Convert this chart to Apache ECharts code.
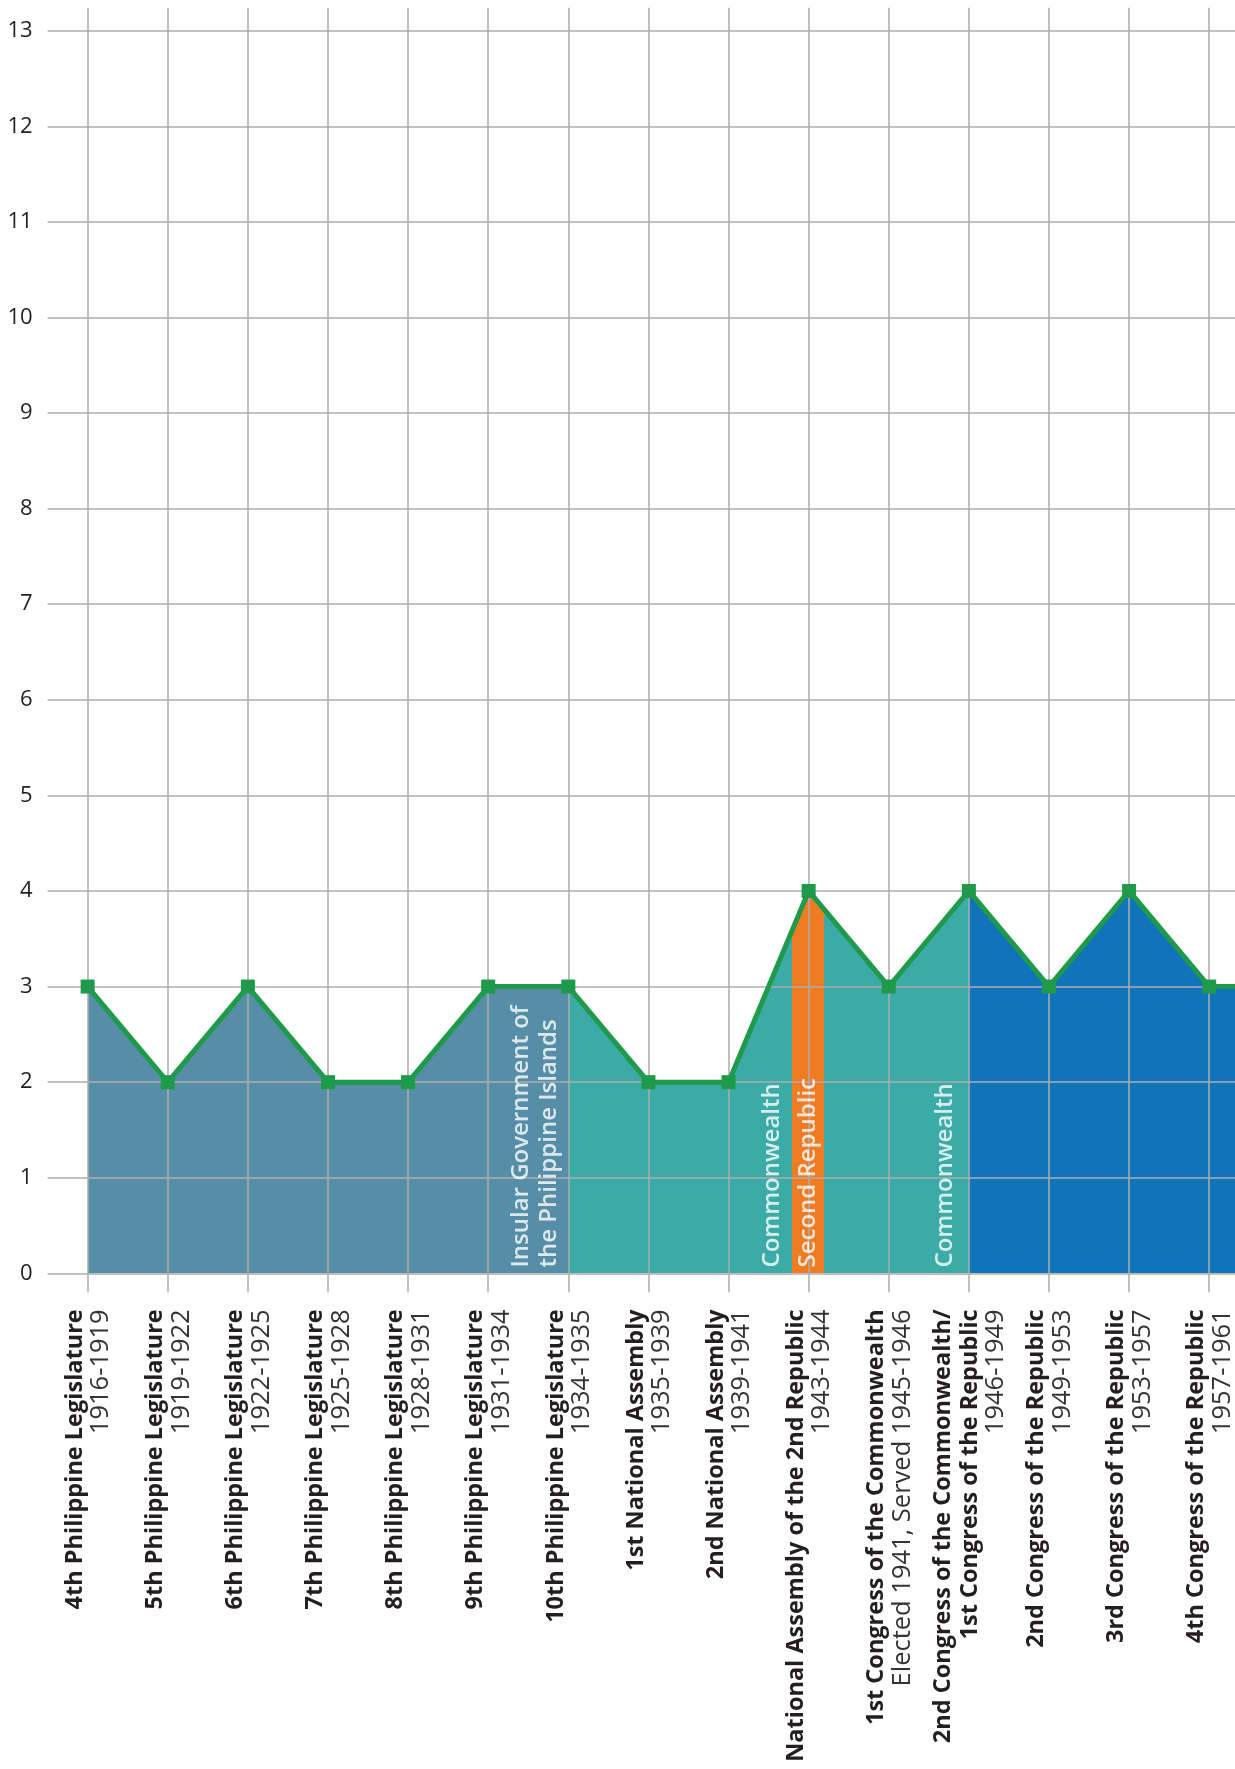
<!DOCTYPE html>
<html>
<head>
<meta charset="utf-8">
<script src="https://cdn.jsdelivr.net/npm/echarts@6/dist/echarts.min.js"></script>
<style>
  html, body { margin: 0; padding: 0; background: #fff; }
  #chart { width: 1235px; height: 1769px; }
</style>
</head>
<body>
<div id="chart"></div>
<script>
// legislatures along the x axis (last one is off the page, line keeps going)
var legislatures = [
  '4th Philippine Legislature',
  '5th Philippine Legislature',
  '6th Philippine Legislature',
  '7th Philippine Legislature',
  '8th Philippine Legislature',
  '9th Philippine Legislature',
  '10th Philippine Legislature',
  '1st National Assembly',
  '2nd National Assembly',
  'National Assembly of the 2nd Republic',
  '1st Congress of the Commonwealth',
  '2nd Congress of the Commonwealth/\n1st Congress of the Republic',
  '2nd Congress of the Republic',
  '3rd Congress of the Republic',
  '4th Congress of the Republic',
  ''
];
var periods = [
  '1916-1919', '1919-1922', '1922-1925', '1925-1928', '1928-1931',
  '1931-1934', '1934-1935', '1935-1939', '1939-1941', '1943-1944',
  'Elected 1941, Served 1945-1946', '1946-1949', '1949-1953',
  '1953-1957', '1957-1961', ''
];
var members = [3, 2, 3, 2, 2, 3, 3, 2, 2, 4, 3, 4, 3, 4, 3, 3];
var yTicks = [0, 13, 1];

// eras shading the area under the line
var eraNames = ['Insular Government of\nthe Philippine Islands', 'Commonwealth', 'Second Republic', 'Commonwealth', ''];
var eraStart = [0, 6, 8.79, 9.19, 11];
var eraEnd = [6, 8.79, 9.19, 11, 15.5];
var eraColors = ['#558ea6', '#3aaba6', '#ef7b23', '#3aaba6', '#1174bb'];
// where the white era captions sit (x in category units)
var captionAt = [5.59, 8.54, 9.0, 10.71];

var FONT = 'Open Sans';
var gridColor = '#adadad';

var myChart = echarts.init(document.getElementById('chart'));

var pieces = eraStart.map(function (s, i) {
  return { gte: s, lt: eraEnd[i], color: eraColors[i] };
});

var option = {
  animation: false,
  textStyle: { fontFamily: FONT },
  grid: {
    left: 47.6,
    top: 30.7,
    width: 80.11 * legislatures.length,
    height: 1242.6,
    outerBoundsMode: 'none',
    containLabel: false
  },
  visualMap: {
    type: 'piecewise',
    show: false,
    seriesIndex: 0,
    dimension: 0,
    pieces: pieces
  },
  xAxis: [{
    type: 'category',
    data: legislatures,
    boundaryGap: true,
    z: 3,
    axisLine: { show: false },
    axisTick: {
      show: true,
      interval: 0,
      alignWithLabel: true,
      length: 19,
      lineStyle: { color: gridColor, width: 1.5 }
    },
    splitLine: {
      show: true,
      interval: 0,
      alignWithLabel: true,
      lineStyle: { color: gridColor, width: 1.5 }
    },
    axisLabel: {
      interval: 0,
      rotate: 90,
      margin: 36,
      formatter: function (value, index) {
        return '{b|' + value + '}\n{d|' + periods[index] + '}';
      },
      rich: {
        b: { fontFamily: FONT, fontWeight: 'bold', fontSize: 23.5, color: '#231f20', lineHeight: 27, align: 'right' },
        d: { fontFamily: FONT, fontSize: 25.5, color: '#333333', lineHeight: 25, align: 'right' }
      }
    }
  }, {
    type: 'value',
    show: false,
    min: -0.5,
    max: legislatures.length - 0.5
  }, {
    // short stubs of the vertical grid lines above the top line
    type: 'category',
    data: legislatures,
    position: 'top',
    boundaryGap: true,
    z: 3,
    axisLine: { show: false },
    axisLabel: { show: false, interval: 0 },
    axisTick: {
      show: true,
      interval: 0,
      alignWithLabel: true,
      length: 23,
      lineStyle: { color: gridColor, width: 1.5 }
    }
  }],
  yAxis: {
    type: 'value',
    min: yTicks[0],
    max: yTicks[1],
    interval: yTicks[2],
    z: 3,
    axisLine: { show: false },
    axisTick: { show: false },
    splitLine: { lineStyle: { color: gridColor, width: 1.5 } },
    axisLabel: {
      margin: 15,
      padding: [0, 0, 13, 0],
      fontFamily: FONT,
      fontSize: 22,
      color: '#231f20'
    }
  },
  series: [{
    name: 'area',
    type: 'line',
    xAxisIndex: 1,
    z: 2,
    symbol: 'none',
    lineStyle: { width: 0, opacity: 0 },
    areaStyle: { opacity: 1 },
    data: members.map(function (v, i) { return [i, v]; })
  }, {
    name: 'captions',
    type: 'scatter',
    xAxisIndex: 1,
    z: 4,
    symbolSize: 0,
    itemStyle: { color: 'transparent' },
    label: {
      show: true,
      position: 'inside',
      rotate: 90,
      align: 'left',
      verticalAlign: 'middle',
      formatter: '{b}',
      fontFamily: FONT,
      fontWeight: 600,
      fontSize: 24,
      lineHeight: 28,
      color: '#ffffff'
    },
    data: captionAt.map(function (x, i) {
      return { name: eraNames[i], value: [x, 0.06] };
    })
  }, {
    name: 'members',
    type: 'line',
    xAxisIndex: 1,
    z: 5,
    color: '#1f9a4a',
    symbol: 'rect',
    symbolSize: 14,
    lineStyle: { width: 5, color: '#1f9a4a' },
    itemStyle: { color: '#1f9a4a' },
    data: members.map(function (v, i) { return [i, v]; })
  }]
};

myChart.setOption(option);
window.addEventListener('resize', function () {
  myChart.resize();
});
</script>
</body>
</html>
